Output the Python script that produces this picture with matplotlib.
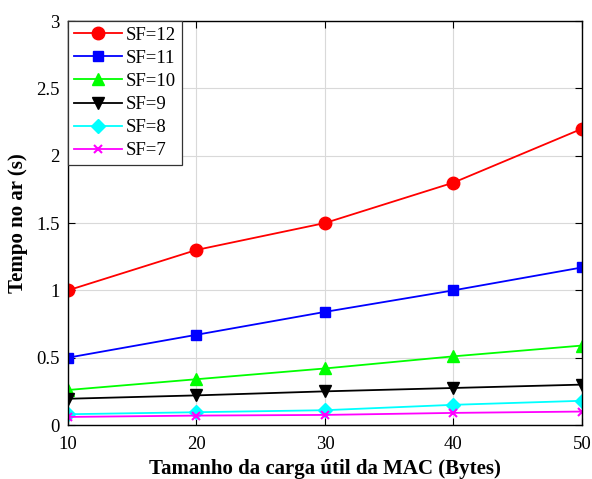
import matplotlib.pyplot as plt

plt.rcParams['font.family'] = 'Liberation Serif'
plt.rcParams['font.size'] = 13.5

x = [10, 20, 30, 40, 50]
sf12 = [1.0, 1.3, 1.5, 1.8, 2.2]
sf11 = [0.5, 0.67, 0.84, 1.0, 1.17]
sf10 = [0.26, 0.34, 0.42, 0.51, 0.59]
sf9 = [0.195, 0.22, 0.25, 0.275, 0.30]
sf8 = [0.08, 0.095, 0.11, 0.15, 0.18]
sf7 = [0.06, 0.07, 0.075, 0.09, 0.10]

fig = plt.figure(figsize=(5.92, 4.79), dpi=100)
ax = fig.add_axes([0.1148, 0.1127, 0.8682, 0.8434])

ax.plot(x, sf12, 'r-o', lw=1.3, ms=9, label='SF=12')
ax.plot(x, sf11, 'b-s', lw=1.3, ms=7, label='SF=11')
ax.plot(x, sf10, '-^', color='#00ff00', lw=1.3, ms=9, label='SF=10')
ax.plot(x, sf9, 'k-v', lw=1.3, ms=9, label='SF=9')
ax.plot(x, sf8, '-D', color='#00ffff', lw=1.3, ms=7, label='SF=8')
ax.plot(x, sf7, '-x', color='#ff00ff', lw=1.3, ms=6, mew=1.5, label='SF=7')

ax.set_xlim(10, 50)
ax.set_ylim(0, 3)
ax.set_xticks(x)
ax.set_yticks([0, 0.5, 1, 1.5, 2, 2.5, 3])
ax.set_yticklabels(['0', '0.5', '1', '1.5', '2', '2.5', '3'])
ax.grid(True, color='#d9d9d9', lw=0.8)
ax.set_axisbelow(True)
ax.tick_params(direction='in', top=True, right=True, length=5, width=0.8)
ax.tick_params(axis='x', pad=8)
ax.tick_params(axis='y', pad=6)
for s in ax.spines.values():
    s.set_linewidth(1.0)

ax.set_xlabel('Tamanho da carga útil da MAC (Bytes)', fontweight='bold', fontsize=15, labelpad=4)
ax.set_ylabel('Tempo no ar (s)', fontweight='bold', fontsize=15, labelpad=6)

leg = ax.legend(loc='upper left', fancybox=False, edgecolor='#333333', framealpha=1,
                fontsize=13.5, handlelength=2.6, borderaxespad=0.0,
                labelspacing=0.32, borderpad=0.3, handletextpad=0.2)
leg.get_frame().set_linewidth(0.9)

fig.savefig('out.png', dpi=100)
